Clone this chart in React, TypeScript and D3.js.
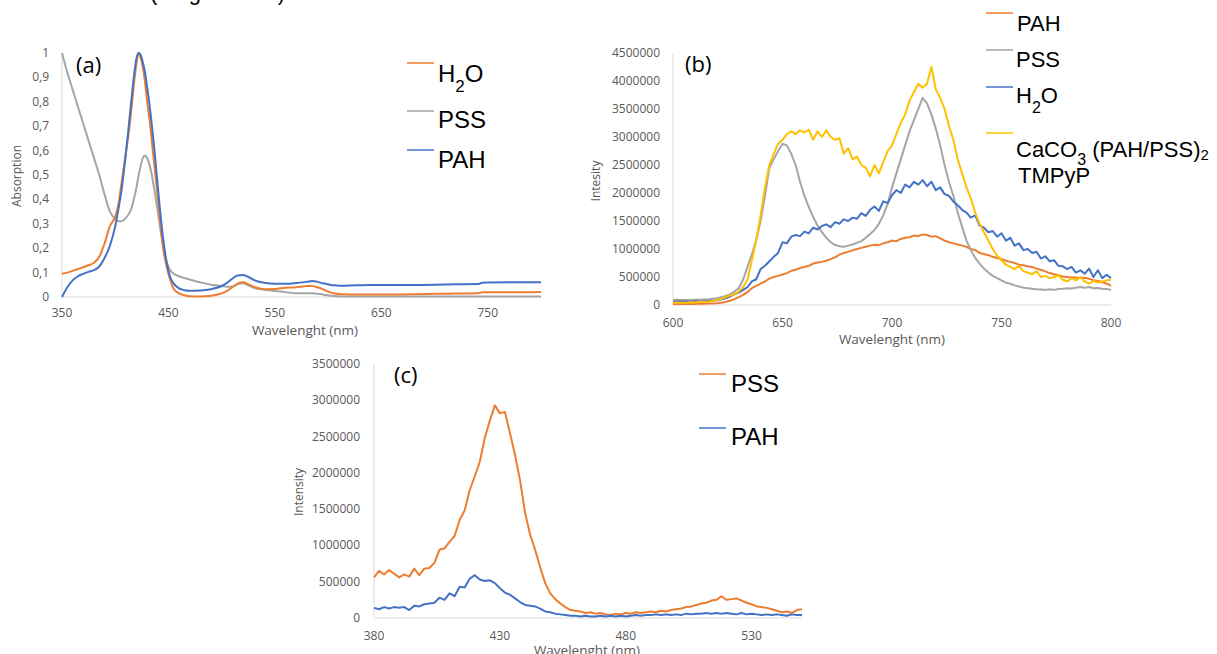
import React from "react";
import * as d3 from "d3";

// ---------- Panel (a): absorption ----------
const aWl = [350, 355, 360, 365, 370, 375, 380, 385, 390, 395, 400, 403, 406, 409, 412, 415, 418, 420, 422, 424, 426, 428, 430, 433, 436, 439, 442, 445, 448, 451, 455, 460, 465, 470, 480, 490, 500, 505, 510, 515, 520, 525, 530, 540, 550, 560, 570, 580, 585, 590, 595, 600, 605, 610, 620, 640, 660, 680, 700, 720, 740, 745, 750, 770, 800];
const aH2O = [0.095, 0.1, 0.107, 0.115, 0.122, 0.13, 0.14, 0.165, 0.22, 0.29, 0.33, 0.38, 0.47, 0.56, 0.65, 0.76, 0.89, 0.96, 1.0, 0.98, 0.94, 0.88, 0.8, 0.7, 0.57, 0.45, 0.32, 0.2, 0.13, 0.08, 0.033, 0.015, 0.007, 0.003, 0.002, 0.005, 0.015, 0.025, 0.04, 0.055, 0.06, 0.052, 0.042, 0.032, 0.033, 0.038, 0.04, 0.045, 0.045, 0.04, 0.032, 0.022, 0.015, 0.012, 0.01, 0.01, 0.01, 0.011, 0.013, 0.014, 0.015, 0.019, 0.019, 0.019, 0.02];
const aPSS = [1.0, 0.92, 0.85, 0.78, 0.71, 0.64, 0.57, 0.5, 0.42, 0.35, 0.32, 0.31, 0.31, 0.32, 0.335, 0.36, 0.41, 0.45, 0.5, 0.54, 0.57, 0.58, 0.57, 0.53, 0.46, 0.38, 0.29, 0.21, 0.15, 0.115, 0.095, 0.085, 0.078, 0.072, 0.06, 0.05, 0.045, 0.042, 0.042, 0.052, 0.056, 0.048, 0.038, 0.03, 0.025, 0.02, 0.015, 0.015, 0.015, 0.013, 0.01, 0.006, 0.004, 0.003, 0.002, 0.002, 0.002, 0.002, 0.002, 0.002, 0.002, 0.002, 0.002, 0.002, 0.002];
const aPAH = [0.0, 0.04, 0.068, 0.085, 0.095, 0.103, 0.11, 0.125, 0.16, 0.21, 0.29, 0.36, 0.44, 0.55, 0.67, 0.8, 0.92, 0.98, 1.0, 0.99, 0.96, 0.92, 0.86, 0.76, 0.64, 0.5, 0.36, 0.24, 0.15, 0.09, 0.055, 0.035, 0.028, 0.026, 0.027, 0.032, 0.045, 0.058, 0.075, 0.088, 0.09, 0.082, 0.07, 0.058, 0.054, 0.054, 0.057, 0.062, 0.066, 0.062, 0.056, 0.052, 0.048, 0.046, 0.047, 0.049, 0.049, 0.049, 0.05, 0.052, 0.053, 0.058, 0.059, 0.06, 0.06];
const aXTicks = [350, 450, 550, 650, 750];
const aYTicks = [0, 0.1, 0.2, 0.3, 0.4, 0.5, 0.6, 0.7, 0.8, 0.9, 1];

// ---------- Panel (b): emission 600-800 nm (values in thousands) ----------
const bWl = d3.range(600, 801, 2);
const bPAH = [
  20, 18, 22, 19, 21, 20, 23, 22, 25, 28,
  30, 40, 55, 75, 105, 140, 180, 230, 300, 340,
  380, 420, 470, 500, 520, 545, 570, 610, 630, 660,
  680, 700, 740, 760, 770, 790, 820, 850, 900, 930,
  950, 975, 1000, 1020, 1040, 1060, 1075, 1070, 1100, 1120,
  1150, 1140, 1180, 1200, 1210, 1240, 1230, 1260, 1250, 1220,
  1230, 1190, 1150, 1120, 1100, 1080, 1060, 1040, 1000, 980,
  930, 910, 890, 860, 840, 820, 790, 770, 750, 720,
  710, 690, 680, 650, 630, 600, 570, 550, 530, 510,
  500, 495, 490, 480, 485, 470, 440, 430, 410, 380,
  340];
const bPSS = [
  90, 92, 88, 91, 90, 93, 95, 97, 100, 110,
  120, 140, 160, 190, 240, 300, 450, 680, 900, 1160,
  1500, 1950, 2450, 2600, 2750, 2880, 2850, 2700, 2500, 2200,
  1950, 1750, 1570, 1420, 1300, 1200, 1120, 1070, 1050, 1040,
  1060, 1080, 1110, 1140, 1200, 1270, 1340, 1450, 1600, 1800,
  2100, 2350, 2600, 2850, 3100, 3300, 3500, 3700, 3600, 3400,
  3150, 2850, 2500, 2200, 1950, 1650, 1400, 1150, 980, 840,
  740, 650, 580, 520, 480, 440, 400, 380, 350, 330,
  310, 300, 290, 280, 275, 270, 280, 270, 285, 290,
  300, 295, 310, 320, 310, 320, 300, 305, 290, 285,
  270];
const bH2O = [
  60, 62, 58, 63, 60, 65, 62, 66, 70, 75,
  85, 100, 120, 150, 190, 220, 270, 320, 420, 460,
  640, 700, 780, 860, 930, 1120, 1100, 1220, 1250, 1230,
  1310, 1280, 1380, 1350, 1410, 1440, 1390, 1480, 1450, 1530,
  1500, 1560, 1540, 1640, 1590, 1700, 1760, 1680, 1850, 1820,
  1960, 2050, 2000, 2150, 2100, 2200, 2150, 2230, 2120, 2200,
  2050, 2100, 1980, 1950, 1850, 1780, 1700, 1650, 1560, 1600,
  1420, 1380, 1300, 1320, 1220, 1280, 1150, 1200, 1060, 1100,
  980, 1000, 930, 950, 830, 870, 780, 800, 700, 690,
  640, 680, 580, 620, 560, 650, 500, 620, 480, 540,
  480];
const bCaCO3 = [
  40, 45, 38, 42, 50, 45, 55, 60, 58, 70,
  90, 110, 140, 170, 190, 240, 320, 450, 800, 1150,
  1600, 2100, 2500, 2700, 2880, 2950, 3050, 3100, 3050, 3120,
  3080, 3130, 2950, 3100, 3000, 3120, 3000, 2950, 2980, 2700,
  2800, 2600, 2650, 2500, 2450, 2300, 2500, 2350, 2550, 2750,
  2850, 3050, 3250, 3400, 3650, 3800, 3950, 3880, 3950, 4250,
  3850, 3700, 3500, 3200, 2950, 2600, 2350, 2100, 1900, 1650,
  1450, 1300, 1150, 1000, 880, 800, 720, 680, 640, 700,
  600, 580, 550, 600, 500, 520, 480, 500, 530, 450,
  420, 480, 440, 500, 420, 380, 430, 400, 420, 440,
  450];
const bXTicks = [600, 650, 700, 750, 800];
const bYTicks = [0, 500000, 1000000, 1500000, 2000000, 2500000, 3000000, 3500000, 4000000, 4500000];

// ---------- Panel (c): emission 380-550 nm (values in thousands) ----------
const cWl = d3.range(380, 551, 2);
const cPSS = [
  560, 650, 600, 660, 610, 560, 600, 570, 680, 590,
  680, 690, 760, 940, 960, 1050, 1130, 1350, 1480, 1760,
  1950, 2150, 2480, 2720, 2930, 2820, 2840, 2550, 2250, 1900,
  1450, 1150, 940, 700, 480, 340, 260, 200, 150, 110,
  100, 90, 70, 80, 60, 70, 50, 40, 60, 50,
  70, 60, 80, 70, 80, 90, 80, 100, 90, 110,
  120, 130, 150, 160, 180, 200, 210, 240, 250, 300,
  250, 260, 270, 240, 210, 190, 160, 150, 140, 120,
  100, 80, 90, 70, 110, 120];
const cPAH = [
  140, 120, 150, 130, 150, 140, 150, 110, 170, 160,
  190, 200, 210, 280, 250, 340, 300, 430, 420, 540,
  590, 530, 510, 520, 480, 410, 350, 320, 270, 220,
  180, 170, 160, 130, 90, 80, 60, 50, 40, 30,
  30, 20, 30, 20, 20, 30, 20, 30, 20, 30,
  20, 30, 40, 30, 40, 40, 50, 40, 50, 40,
  50, 40, 60, 50, 60, 60, 70, 60, 70, 60,
  70, 60, 50, 70, 50, 60, 50, 40, 50, 40,
  50, 40, 30, 50, 40, 40];
const cXTicks = [380, 430, 480, 530];
const cYTicks = [0, 500000, 1000000, 1500000, 2000000, 2500000, 3000000, 3500000];

const ORANGE = "#ED7D31";
const GRAY = "#A5A5A5";
const BLUE = "#4472C4";
const YELLOW = "#FFC000";
const AXIS = "#D9D9D9";
const TXT = "#595959";
const TICK_FONT = "'Open Sans', sans-serif";
const LEG_FONT = "'Liberation Sans', Arial, sans-serif";

type Series = { wl: number[]; vals: number[]; color: string; mult: number };

function Panel(props: {
  xr: [number, number];
  yr: [number, number];
  xDom: [number, number];
  yDom: [number, number];
  xTicks: number[];
  yTicks: number[];
  yFmt: (v: number) => string;
  yLabelRight: number;
  xLabelBase: number;
  series: Series[];
  smooth: boolean;
  xTitle: string;
  xTitlePos: [number, number];
  yTitle: string;
  yTitlePos: [number, number];
  tag: string;
  tagPos: [number, number];
}) {
  const x = d3.scaleLinear().domain(props.xDom).range(props.xr);
  const y = d3.scaleLinear().domain(props.yDom).range(props.yr);
  const line = d3
    .line<[number, number]>()
    .x((d) => x(d[0]))
    .y((d) => y(d[1]))
    .curve(props.smooth ? d3.curveMonotoneX : d3.curveLinear);
  return (
    <g>
      <line x1={props.xr[0]} x2={props.xr[1]} y1={props.yr[0]} y2={props.yr[0]} stroke={AXIS} strokeWidth={1} />
      <line x1={props.xr[0]} x2={props.xr[0]} y1={props.yr[0]} y2={props.yr[1]} stroke={AXIS} strokeWidth={1} />
      {props.yTicks.map((t) => (
        <text key={"y" + t} x={props.yLabelRight} y={y(t) + 4} textAnchor="end" fontSize={12} fill={TXT} fontFamily={TICK_FONT}>
          {props.yFmt(t)}
        </text>
      ))}
      {props.xTicks.map((t) => (
        <text key={"x" + t} x={x(t)} y={props.xLabelBase} textAnchor="middle" fontSize={12} fill={TXT} fontFamily={TICK_FONT}>
          {t}
        </text>
      ))}
      <text x={props.xTitlePos[0]} y={props.xTitlePos[1]} textAnchor="middle" fontSize={13.5} fill={TXT} fontFamily={TICK_FONT}>
        {props.xTitle}
      </text>
      <text
        transform={`translate(${props.yTitlePos[0]},${props.yTitlePos[1]}) rotate(-90)`}
        textAnchor="middle"
        dominantBaseline="middle"
        fontSize={12}
        fill={TXT}
        fontFamily={TICK_FONT}
      >
        {props.yTitle}
      </text>
      {props.series.map((s, i) => (
        <path
          key={i}
          d={line(s.wl.map((w, k) => [w, s.vals[k] * s.mult] as [number, number])) || ""}
          fill="none"
          stroke={s.color}
          strokeWidth={2}
          strokeLinejoin="round"
        />
      ))}
      <text x={props.tagPos[0]} y={props.tagPos[1]} fontSize={22} fill="#000" fontFamily={TICK_FONT}>
        {props.tag}
      </text>
    </g>
  );
}

function LegLine({ x, y, color }: { x: number; y: number; color: string }) {
  return <line x1={x} x2={x + 27} y1={y} y2={y} stroke={color} strokeWidth={1.5} />;
}

export default function App() {
  const fmtA = (v: number) => String(v).replace(".", ",");
  const fmtI = (v: number) => String(v);
  return (
    <svg width={1217} height={654} style={{ position: "absolute", left: 0, top: 0, background: "#fff" }}>
      <rect x={0} y={0} width={1217} height={654} fill="#fff" />
      <text x={150} y={0} fontSize={22} fontFamily={LEG_FONT} fill="#000" textLength={135} lengthAdjust="spacing">
        (Figure 4)
      </text>

      <Panel
        xr={[62, 541]}
        yr={[297, 53]}
        xDom={[350, 800]}
        yDom={[0, 1]}
        xTicks={aXTicks}
        yTicks={aYTicks}
        yFmt={fmtA}
        yLabelRight={49}
        xLabelBase={317}
        series={[
          { wl: aWl, vals: aPSS, color: GRAY, mult: 1 },
          { wl: aWl, vals: aH2O, color: ORANGE, mult: 1 },
          { wl: aWl, vals: aPAH, color: BLUE, mult: 1 },
        ]}
        smooth={true}
        xTitle="Wavelenght (nm)"
        xTitlePos={[305, 335]}
        yTitle="Absorption"
        yTitlePos={[18, 176]}
        tag="(a)"
        tagPos={[76, 73]}
      />
      <g fontFamily={LEG_FONT} fontSize={24} fill="#000">
        <LegLine x={407} y={63} color={ORANGE} />
        <text x={438} y={82}>
          H<tspan fontSize={17} dy={10}>2</tspan><tspan dy={-10}>O</tspan>
        </text>
        <LegLine x={407} y={111} color={GRAY} />
        <text x={438} y={128}>PSS</text>
        <LegLine x={407} y={150} color={BLUE} />
        <text x={438} y={168}>PAH</text>
      </g>

      <Panel
        xr={[673, 1111]}
        yr={[305, 53]}
        xDom={[600, 800]}
        yDom={[0, 4500000]}
        xTicks={bXTicks}
        yTicks={bYTicks}
        yFmt={fmtI}
        yLabelRight={660}
        xLabelBase={327}
        series={[
          { wl: bWl, vals: bPAH, color: ORANGE, mult: 1000 },
          { wl: bWl, vals: bPSS, color: GRAY, mult: 1000 },
          { wl: bWl, vals: bH2O, color: BLUE, mult: 1000 },
          { wl: bWl, vals: bCaCO3, color: YELLOW, mult: 1000 },
        ]}
        smooth={false}
        xTitle="Wavelenght (nm)"
        xTitlePos={[892, 344]}
        yTitle="Intesity"
        yTitlePos={[597, 181]}
        tag="(b)"
        tagPos={[685, 72]}
      />
      <g fontFamily={LEG_FONT} fontSize={22} fill="#000">
        <LegLine x={986} y={13} color={ORANGE} />
        <text x={1017} y={31}>PAH</text>
        <LegLine x={986} y={50} color={GRAY} />
        <text x={1016} y={67}>PSS</text>
        <LegLine x={986} y={87} color={BLUE} />
        <text x={1016} y={103}>
          H<tspan fontSize={16} dy={10}>2</tspan><tspan dy={-10}>O</tspan>
        </text>
        <LegLine x={986} y={133} color={YELLOW} />
        <text x={1016} y={157}>
          CaCO<tspan fontSize={16} dy={8}>3</tspan><tspan dy={-8}> (PAH/PSS)</tspan><tspan fontSize={15} dy={3}>2</tspan>
        </text>
        <text x={1018} y={183}>TMPyP</text>
      </g>

      <Panel
        xr={[374, 802]}
        yr={[618, 364]}
        xDom={[380, 550]}
        yDom={[0, 3500000]}
        xTicks={cXTicks}
        yTicks={cYTicks}
        yFmt={fmtI}
        yLabelRight={360}
        xLabelBase={640}
        series={[
          { wl: cWl, vals: cPSS, color: ORANGE, mult: 1000 },
          { wl: cWl, vals: cPAH, color: BLUE, mult: 1000 },
        ]}
        smooth={false}
        xTitle="Wavelenght (nm)"
        xTitlePos={[587, 655]}
        yTitle="Intensity"
        yTitlePos={[300, 492]}
        tag="(c)"
        tagPos={[394, 383]}
      />
      <g fontFamily={LEG_FONT} fontSize={24} fill="#000">
        <LegLine x={699} y={374} color={ORANGE} />
        <text x={731} y={392}>PSS</text>
        <LegLine x={699} y={428} color={BLUE} />
        <text x={731} y={445}>PAH</text>
      </g>
    </svg>
  );
}
